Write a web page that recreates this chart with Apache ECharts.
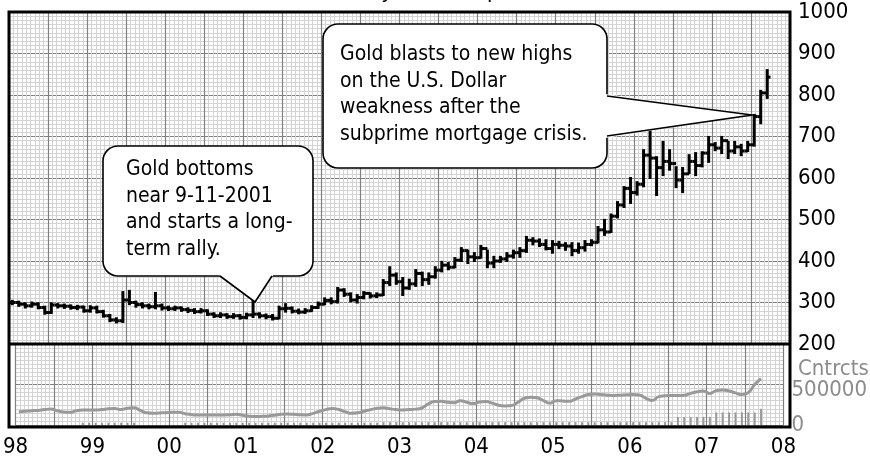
<!DOCTYPE html>
<html>
<head>
<meta charset="utf-8">
<script src="https://cdn.jsdelivr.net/npm/echarts@6/dist/echarts.min.js"></script>
<style>
  html, body { margin: 0; padding: 0; background: #fff; }
  #chart { width: 870px; height: 458px; }
</style>
</head>
<body>
<div id="chart"></div>
<script>
// monthly bars, Jan 1998 .. Nov 2007 (x = month index from Jan 1998)
const yearLabels = ['98', '99', '00', '01', '02', '03', '04', '05', '06', '07', '08']

const closes = [
  300, 296, 292, 296, 288, 276, 294, 292, 291, 288,
  289, 280, 287, 278, 268, 258, 256, 306, 300, 295,
  292, 290, 292, 287, 285, 287, 283, 281, 278, 280,
  272, 268, 270, 266, 268, 264, 270, 272, 268, 266,
  262, 285, 286, 279, 277, 280, 288, 296, 305, 302,
  330, 320, 306, 312, 322, 316, 318, 348, 366, 350,
  335, 345, 370, 355, 362, 378, 390, 385, 402, 425,
  410, 408, 430, 395, 400, 405, 412, 420, 425, 450,
  448, 440, 430, 440, 438, 436, 425, 432, 440, 445,
  475, 470, 508, 535, 575, 565, 585, 655, 648, 625,
  640, 635, 595, 610, 640, 630, 660, 680, 672, 690,
  665, 675, 665, 680, 748, 805, 843
]
const highs = [
  304, 302, 298, 300, 298, 290, 298, 296, 295, 293,
  292, 290, 291, 290, 280, 270, 262, 325, 328, 302,
  298, 295, 323, 295, 290, 290, 288, 286, 284, 284,
  281, 274, 274, 272, 272, 270, 273, 306, 274, 271,
  270, 290, 296, 288, 283, 284, 291, 300, 310, 310,
  335, 332, 322, 318, 325, 322, 322, 354, 385, 370,
  359, 355, 378, 372, 370, 385, 398, 395, 407, 431,
  425, 419, 436, 425, 410, 410, 419, 425, 431, 458,
  455, 452, 450, 448, 446, 443, 443, 442, 448, 450,
  482, 499, 512, 542, 578, 600, 590, 667, 716, 650,
  687, 667, 626, 624, 655, 660, 662, 699, 684, 699,
  687, 687, 680, 687, 752, 810, 860
]
const lows = [
  296, 292, 288, 290, 286, 273, 275, 288, 287, 285,
  284, 278, 278, 276, 266, 255, 252, 253, 296, 290,
  288, 286, 286, 283, 282, 282, 280, 277, 275, 276,
  270, 265, 265, 263, 263, 261, 262, 265, 264, 262,
  259, 262, 278, 276, 274, 275, 280, 287, 296, 298,
  300, 316, 303, 300, 310, 312, 313, 318, 342, 345,
  318, 333, 340, 342, 345, 360, 375, 380, 385, 400,
  395, 400, 408, 385, 385, 398, 400, 408, 410, 422,
  440, 436, 428, 420, 431, 427, 414, 420, 425, 438,
  445, 463, 470, 505, 530, 540, 560, 580, 600, 559,
  607, 620, 578, 566, 612, 607, 628, 639, 667, 660,
  648, 660, 655, 665, 678, 732, 793
]
// open interest (contracts)
const openInterest = [
  164000, 170000, 176000, 180000, 190000, 196000, 176000, 160000, 156000, 176000,
  184000, 184000, 184000, 190000, 200000, 204000, 190000, 208000, 212000, 180000,
  150000, 144000, 148000, 152000, 156000, 156000, 140000, 128000, 124000, 124000,
  124000, 124000, 124000, 126000, 132000, 120000, 108000, 104000, 108000, 112000,
  120000, 132000, 136000, 132000, 126000, 124000, 144000, 170000, 190000, 204000,
  192000, 164000, 144000, 150000, 170000, 190000, 206000, 212000, 200000, 190000,
  186000, 190000, 196000, 210000, 260000, 290000, 292000, 280000, 276000, 300000,
  280000, 264000, 284000, 290000, 270000, 244000, 236000, 240000, 280000, 330000,
  344000, 336000, 300000, 270000, 300000, 296000, 292000, 320000, 350000, 376000,
  384000, 376000, 368000, 364000, 368000, 372000, 376000, 370000, 330000, 304000,
  350000, 360000, 364000, 364000, 368000, 390000, 410000, 420000, 390000, 424000,
  432000, 420000, 396000, 376000, 400000, 500000, 570000
]
// volume bars (contracts)
const volume = [
  0, 0, 0, 0, 0, 0, 0, 0, 0, 0,
  28000, 28000, 28000, 28000, 28000, 28000, 28000, 28000, 28000, 0,
  0, 0, 0, 0, 0, 0, 28000, 28000, 28000, 28000,
  28000, 28000, 28000, 28000, 28000, 28000, 28000, 28000, 28000, 28000,
  28000, 28000, 28000, 28000, 28000, 28000, 28000, 28000, 28000, 28000,
  28000, 28000, 28000, 28000, 28000, 28000, 28000, 35000, 35000, 35000,
  35000, 35000, 35000, 35000, 35000, 35000, 35000, 35000, 35000, 35000,
  35000, 35000, 35000, 35000, 35000, 35000, 35000, 35000, 35000, 35000,
  35000, 35000, 35000, 35000, 35000, 35000, 35000, 35000, 35000, 35000,
  35000, 35000, 35000, 35000, 35000, 35000, 35000, 35000, 35000, 35000,
  35000, 35000, 35000, 100000, 100000, 100000, 100000, 100000, 100000, 155000,
  155000, 155000, 155000, 155000, 155000, 155000, 200000
]

const FONT = '"Liberation Sans Narrow", "DejaVu Sans Condensed", Roboto, sans-serif'
const MAJOR = '#808080'
const MINOR = '#d4d4d4'

const chart = echarts.init(document.getElementById('chart'))

function renderBar(params, api) {
  const x = api.value(0)
  const half = api.size([1, 0])[0] / 2
  const o = api.coord([x, api.value(1)])
  const c = api.coord([x, api.value(2)])
  const lo = api.coord([x, api.value(3)])
  const hi = api.coord([x, api.value(4)])
  const style = { stroke: '#000', lineWidth: 3 }
  return {
    type: 'group',
    children: [
      { type: 'line', shape: { x1: lo[0], y1: lo[1] + 1, x2: hi[0], y2: hi[1] - 1 }, style },
      { type: 'line', shape: { x1: o[0] - half, y1: o[1], x2: o[0], y2: o[1] }, style },
      { type: 'line', shape: { x1: c[0], y1: c[1], x2: c[0] + half, y2: c[1] }, style }
    ]
  }
}

const xCommon = {
  type: 'value',
  min: 0,
  max: 120,
  interval: 6,
  axisLine: { show: false },
  axisTick: { show: false },
  splitLine: { show: true, lineStyle: { color: MAJOR, width: 1.2 } },
  minorTick: { show: false, splitNumber: 9 },
  minorSplitLine: { show: true, lineStyle: { color: MINOR, width: 1 } }
}

// callout = rounded box + pointer tail (white wedge hides the box edge)
function callout(box, tail, text, textPos) {
  return [
    {
      type: 'rect', z: 110,
      shape: { x: box[0], y: box[1], width: box[2], height: box[3], r: 15 },
      style: { fill: '#fff', stroke: '#000', lineWidth: 1.6 }
    },
    {
      type: 'polygon', z: 111,
      shape: { points: tail.fill },
      style: { fill: '#fff' }
    },
    {
      type: 'polyline', z: 112,
      shape: { points: tail.edge },
      style: { fill: null, stroke: '#000', lineWidth: 1.6 }
    },
    {
      type: 'text', z: 113, x: textPos[0], y: textPos[1],
      style: { text, fontFamily: FONT, fontSize: 21, lineHeight: 26.7, fill: '#000' }
    }
  ]
}

chart.setOption({
  animation: false,
  backgroundColor: '#fff',
  grid: [
    { left: 9, right: 80, top: 12, height: 332 },
    { left: 9, right: 80, top: 344, height: 83 }
  ],
  xAxis: [
    Object.assign({ gridIndex: 0, axisLabel: { show: false } }, xCommon),
    Object.assign({
      gridIndex: 1,
      axisLabel: {
        show: true,
        fontFamily: FONT,
        fontSize: 22,
        color: '#000',
        margin: 11,
        formatter: v => (v % 12 === 0 ? yearLabels[v / 12] : '')
      }
    }, xCommon)
  ],
  yAxis: [
    {
      gridIndex: 0,
      type: 'value',
      position: 'right',
      min: 200,
      max: 1000,
      interval: 100,
      axisLine: { show: false },
      axisTick: { show: false },
      axisLabel: { fontFamily: FONT, fontSize: 22, color: '#000', margin: 8, formatter: v => String(v) },
      splitLine: { show: true, lineStyle: { color: MAJOR, width: 1.2 } },
      minorTick: { show: false, splitNumber: 10 },
      minorSplitLine: { show: true, lineStyle: { color: MINOR, width: 1 } }
    },
    {
      gridIndex: 1,
      type: 'value',
      position: 'right',
      min: 0,
      max: 1000000,
      interval: 500000,
      axisLine: { show: false },
      axisTick: { show: false },
      axisLabel: {
        fontFamily: FONT,
        fontSize: 22,
        color: '#8c8c8c',
        margin: 8,
        formatter: v => (v >= 1000000 ? '' : v === 500000 ? '{mid|500000}' : String(v)),
        rich: { mid: { fontFamily: FONT, fontSize: 22, color: '#8c8c8c', padding: [12, 0, 0, 0] } }
      },
      splitLine: { show: true, lineStyle: { color: MAJOR, width: 1.2 } },
      minorTick: { show: false, splitNumber: 10 },
      minorSplitLine: { show: true, lineStyle: { color: MINOR, width: 1 } }
    }
  ],
  series: [
    {
      type: 'custom',
      xAxisIndex: 0,
      yAxisIndex: 0,
      renderItem: renderBar,
      encode: { x: 0, y: [1, 2, 3, 4] },
      data: closes.map((c, i) => [i + 0.5, i ? closes[i - 1] : c, c, lows[i], highs[i]]),
      z: 5
    },
    {
      type: 'bar',
      xAxisIndex: 1,
      yAxisIndex: 1,
      barWidth: 2,
      itemStyle: { color: '#999' },
      data: volume.map((v, i) => [i + 0.5, v])
    },
    {
      type: 'line',
      xAxisIndex: 1,
      yAxisIndex: 1,
      smooth: true,
      symbol: 'none',
      lineStyle: { color: '#999', width: 3 },
      data: openInterest.map((v, i) => [i + 0.5, v]),
      z: 4
    }
  ],
  graphic: [
    // chopped-off title, only descenders reach into the picture
    {
      type: 'text', x: 262, y: -19, z: 50,
      style: { text: 'Gold Monthly Comex Spot Price', fontFamily: FONT, fontSize: 22, fill: '#000' }
    },
    // frame and panel divider
    {
      type: 'rect', z: 100, silent: true,
      shape: { x: 9, y: 12, width: 781, height: 415 },
      style: { fill: 'none', stroke: '#000', lineWidth: 3 }
    },
    {
      type: 'line', z: 100, silent: true,
      shape: { x1: 9, y1: 344, x2: 790, y2: 344 },
      style: { stroke: '#000', lineWidth: 3 }
    },
    {
      type: 'text', z: 100, x: 798, y: 369,
      style: { text: 'Cntrcts', fontFamily: FONT, fontSize: 22, fill: '#8c8c8c', verticalAlign: 'middle' }
    }
  ].concat(
    callout([103, 146, 210, 130],
      { fill: [[218, 274], [274, 274], [255, 302]], edge: [[220, 276], [255, 302], [272, 276]] },
      'Gold bottoms\nnear 9-11-2001\nand starts a long-\nterm rally.', [126, 156]),
    callout([323, 24, 284, 144],
      { fill: [[605, 94], [752, 115], [605, 138]], edge: [[607, 96], [752, 115], [607, 136]] },
      'Gold blasts to new highs\non the U.S. Dollar\nweakness after the\nsubprime mortgage crisis.', [340, 41])
  )
})
</script>
</body>
</html>
